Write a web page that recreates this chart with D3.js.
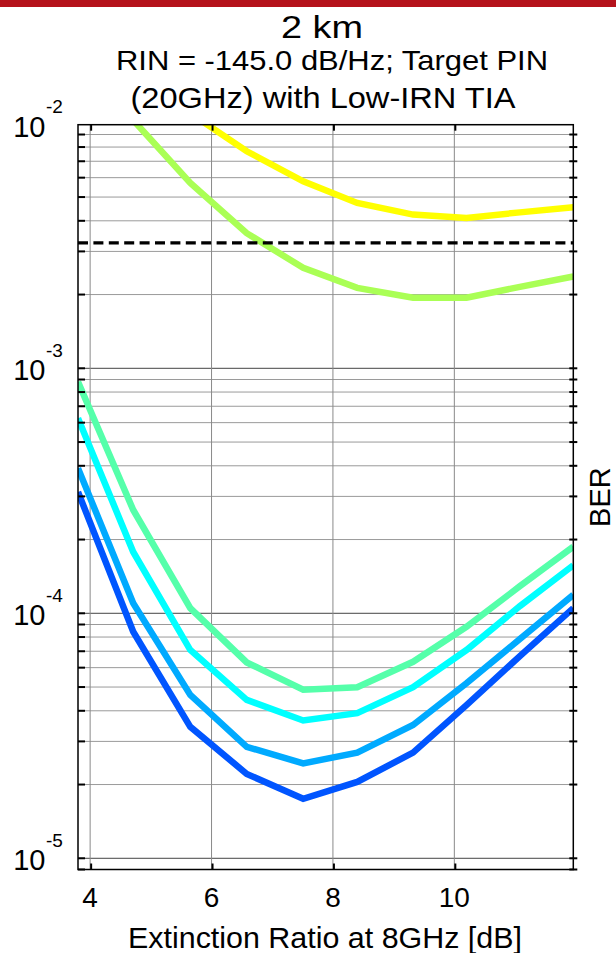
<!DOCTYPE html>
<html><head><meta charset="utf-8">
<script src="https://cdn.jsdelivr.net/npm/d3@7"></script>
<style>html,body{margin:0;padding:0;background:#fff;} svg{display:block;font-family:"Liberation Sans",Arial,sans-serif;}</style>
</head><body>
<svg id="chart" width="616" height="953"></svg>
<script>
// ---- data ----
const extinctionRatio = [3.8, 4.71, 5.65, 6.58, 7.51, 8.4, 9.32, 10.2, 11.08, 11.96];
const berYellow    = [null, null, 1.1e-2, 7.69e-3, 5.80e-3, 4.73e-3, 4.24e-3, 4.11e-3, 4.33e-3, 4.54e-3];
const berGreen     = [null, 1.03e-2, 5.71e-3, 3.56e-3, 2.57e-3, 2.13e-3, 1.94e-3, 1.94e-3, 2.15e-3, 2.37e-3];
const berSeaGreen  = [8.82e-4, 2.64e-4, 1.05e-4, 6.3e-5, 4.88e-5, 4.99e-5, 6.34e-5, 8.81e-5, 1.29e-4, 1.87e-4];
const berCyan      = [6.25e-4, 1.78e-4, 7.08e-5, 4.43e-5, 3.65e-5, 3.91e-5, 4.99e-5, 7.08e-5, 1.07e-4, 1.57e-4];
const berLightBlue = [3.91e-4, 1.10e-4, 4.64e-5, 2.85e-5, 2.44e-5, 2.70e-5, 3.50e-5, 5.18e-5, 7.85e-5, 1.19e-4];
const berBlue      = [3.13e-4, 8.41e-5, 3.44e-5, 2.21e-5, 1.75e-5, 2.05e-5, 2.70e-5, 4.22e-5, 6.69e-5, 1.05e-4];
const fecThreshold = 3.25e-3;
const xTickValues = [4, 6, 8, 10];
const yTickValues = [1e-5, 1e-4, 1e-3, 1e-2];
const yTickExponents = ["-5", "-4", "-3", "-2"];
const titleLines = ["2 km", "RIN = -145.0 dB/Hz; Target PIN", "(20GHz) with Low-IRN TIA"];
const xLabel = "Extinction Ratio at 8GHz [dB]";
const yLabel = "BER";

// styles
const seriesList = [berYellow, berGreen, berSeaGreen, berCyan, berLightBlue, berBlue];
const seriesColors = ["#ffff00", "#aaff55", "#55ffaa", "#00ffff", "#00aaff", "#0055ff"];

// ---- chart ----
const svg = d3.select("#chart");
const x = d3.scaleLinear().domain([3.8, 11.96]).range([78, 573.3]);
const y = d3.scaleLog().domain([9e-6, 9.87e-3]).range([869.5, 124.7]);
const [x0, x1] = x.range();
const [yb, yt] = y.range();

// red banner
svg.append("rect").attr("x", 0).attr("y", 0).attr("width", 616).attr("height", 7).attr("fill", "#b5121b");

// grid
const yGrid = y.ticks().filter(v => y(v) > yt + 0.5 && y(v) < yb - 0.5);
svg.append("g").selectAll("line").data(yGrid).join("line")
  .attr("x1", x0).attr("x2", x1)
  .attr("y1", d => y(d)).attr("y2", d => y(d))
  .attr("stroke", d => Math.abs(Math.log10(d) - Math.round(Math.log10(d))) < 1e-6 ? "#444" : "#9a9a9a")
  .attr("stroke-width", 1);
svg.append("g").selectAll("line").data(xTickValues).join("line")
  .attr("x1", d => x(d)).attr("x2", d => x(d))
  .attr("y1", yt).attr("y2", yb)
  .attr("stroke", "#8a8a8a").attr("stroke-width", 1);

// curves
svg.append("clipPath").attr("id", "plotclip").append("rect")
  .attr("x", x0).attr("y", yt).attr("width", x1 - x0).attr("height", yb - yt);
const line = d3.line()
  .defined(d => d[1] != null)
  .x(d => x(d[0])).y(d => y(d[1]));
const gLines = svg.append("g").attr("clip-path", "url(#plotclip)");
seriesList.forEach((s, i) => {
  gLines.append("path")
    .datum(extinctionRatio.map((e, k) => [e, s[k]]))
    .attr("d", line)
    .attr("fill", "none")
    .attr("stroke", seriesColors[i])
    .attr("stroke-width", 6.5);
});
// FEC threshold
gLines.append("line")
  .attr("x1", x0).attr("x2", x1)
  .attr("y1", y(fecThreshold)).attr("y2", y(fecThreshold))
  .attr("stroke", "#000").attr("stroke-width", 3.3)
  .attr("stroke-dasharray", "10,5.4");

// axes box
svg.append("rect").attr("x", x0).attr("y", yt).attr("width", x1 - x0).attr("height", yb - yt)
  .attr("fill", "none").attr("stroke", "#000").attr("stroke-width", 1.5);

// ticks
const yAllTicks = y.ticks().filter(v => y(v) > yt + 0.5);
svg.append("g").selectAll("line").data(yAllTicks).join("line")
  .attr("x1", x0).attr("x2", x0 + 7)
  .attr("y1", d => y(d)).attr("y2", d => y(d))
  .attr("stroke", "#000").attr("stroke-width", 2);
svg.append("g").selectAll("line").data(yAllTicks).join("line")
  .attr("x1", x1 - 4).attr("x2", x1 + 4)
  .attr("y1", d => y(d)).attr("y2", d => y(d))
  .attr("stroke", "#000").attr("stroke-width", 2);
svg.append("g").selectAll("line").data(xTickValues).join("line")
  .attr("x1", d => x(d) + 1).attr("x2", d => x(d) + 1)
  .attr("y1", yb).attr("y2", yb - 6)
  .attr("stroke", "#000").attr("stroke-width", 2);
svg.append("g").selectAll("line").data(xTickValues).join("line")
  .attr("x1", d => x(d) + 1).attr("x2", d => x(d) + 1)
  .attr("y1", yt).attr("y2", yt + 6)
  .attr("stroke", "#000").attr("stroke-width", 2);

// x tick labels
svg.append("g").selectAll("text").data(xTickValues).join("text")
  .attr("x", d => x(d)).attr("y", 906.5)
  .attr("text-anchor", "middle").attr("font-size", 28).attr("fill", "#000")
  .text(d => d);

// y tick labels 10^n
const yl = svg.append("g").selectAll("g").data(yTickValues).join("g");
yl.append("text")
  .attr("x", 45.5).attr("y", (d, i) => y(d) + 12 + (i === yTickValues.length - 1 ? 1.5 : 0))
  .attr("text-anchor", "end").attr("font-size", 29).attr("fill", "#000")
  .text("10");
yl.append("text")
  .attr("x", 46).attr("y", (d, i) => y(d) - 11.5 + (i === yTickValues.length - 1 ? 1.5 : 0))
  .attr("text-anchor", "start").attr("font-size", 19).attr("fill", "#000")
  .text((d, i) => yTickExponents[i]);

// axis labels
svg.append("text").attr("x", 325).attr("y", 948)
  .attr("text-anchor", "middle").attr("font-size", 30).attr("fill", "#000")
  .attr("textLength", 394).attr("lengthAdjust", "spacingAndGlyphs")
  .text(xLabel);
svg.append("text")
  .attr("transform", `translate(610, ${(yt + yb) / 2}) rotate(-90)`)
  .attr("text-anchor", "middle").attr("font-size", 29).attr("fill", "#000")
  .text(yLabel);

// title
const titleSpecs = [
  {cx: 322, base: 38, size: 32, len: 82},
  {cx: 332, base: 70, size: 28.5, len: 432},
  {cx: 323, base: 108, size: 29.5, len: 385}
];
titleLines.forEach((t, i) => {
  const s = titleSpecs[i];
  svg.append("text")
    .attr("x", s.cx - s.len / 2).attr("y", s.base)
    .attr("font-size", s.size).attr("fill", "#000")
    .attr("textLength", s.len).attr("lengthAdjust", "spacingAndGlyphs")
    .text(t);
});
</script>
</body></html>
